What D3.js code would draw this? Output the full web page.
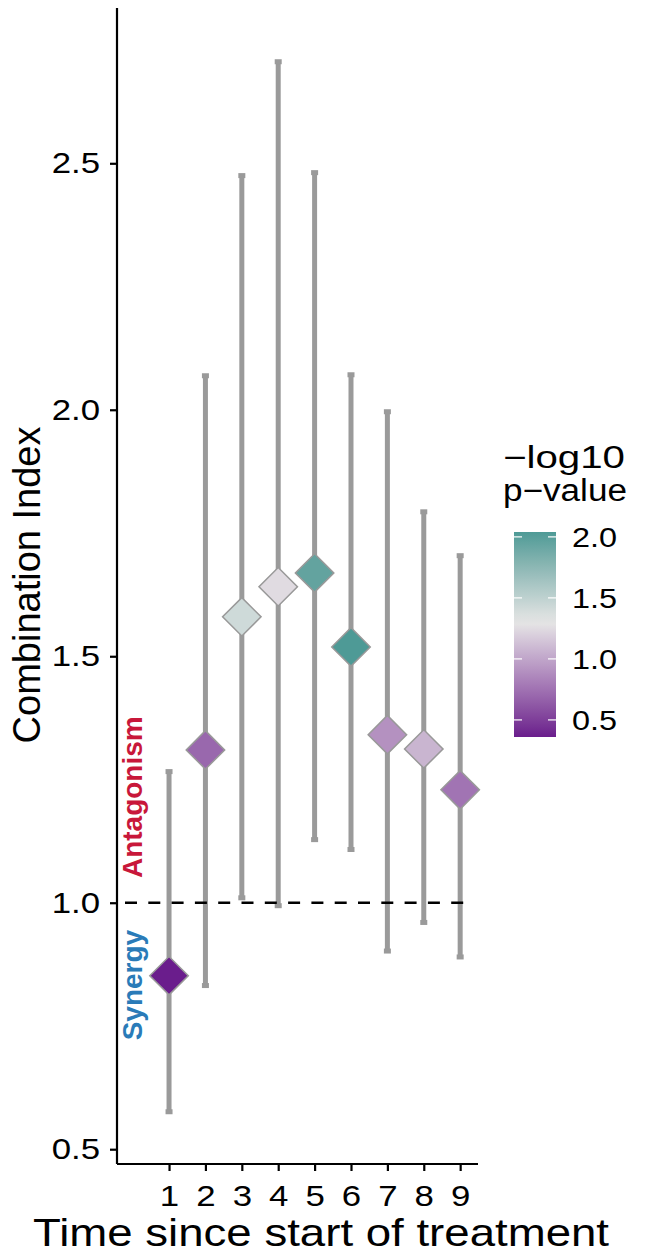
<!DOCTYPE html>
<html>
<head>
<meta charset="utf-8">
<script src="https://d3js.org/d3.v7.min.js"></script>
<style>
    body { margin: 0; background: #fff; }
    text { font-family: "Liberation Sans", Arial, sans-serif; }
</style>
</head>
<body>
<div id="chart"></div>
<script>
    // data
    var timepoints = [1, 2, 3, 4, 5, 6, 7, 8, 9];
    var ciValues  = [0.852, 1.310, 1.580, 1.641, 1.669, 1.519, 1.341, 1.312, 1.229];
    var ciLower   = [0.576, 0.832, 1.010, 0.994, 1.128, 1.108, 0.902, 0.960, 0.890];
    var ciUpper   = [1.266, 2.069, 2.475, 2.706, 2.481, 2.071, 1.996, 1.793, 1.704];
    var negLogP   = [0.36, 0.70, 1.42, 1.25, 1.95, 2.04, 0.90, 1.07, 0.76];
    var yTicks = [0.5, 1.0, 1.5, 2.0, 2.5];
    var legendTicks = [0.5, 1.0, 1.5, 2.0];

    var W = 647, H = 1254;
    var SX = 1.2; // horizontal text stretch seen in the picture

    var svg = d3.select("#chart")
        .append("svg")
        .attr("width", W)
        .attr("height", H);

    var x = d3.scaleLinear()
        .domain([-0.43, 9.49])
        .range([117, 478]);

    var y = d3.scaleLinear()
        .domain([0.47, 2.815])
        .range([1164, 8]);

    var color = d3.scaleLinear()
        .domain([0.36, 1.3, 2.04])
        .range(["#6a1d8c", "#e6e6e6", "#4e9a96"])
        .interpolate(d3.interpolateLab);

    var data = timepoints.map(function (t, i) {
        return { t: t, ci: ciValues[i], lo: ciLower[i], hi: ciUpper[i], p: negLogP[i] };
    });

    function hText(px, py, size, txt, anchor) {
        return svg.append("text")
            .attr("transform", "translate(" + px + "," + py + ") scale(" + SX + ",1)")
            .attr("text-anchor", anchor || "start")
            .style("font-size", size + "px")
            .text(txt);
    }

    // error bars
    var bars = svg.append("g");
    bars.selectAll("line")
        .data(data)
        .enter()
        .append("line")
        .attr("x1", function (d) { return x(d.t) })
        .attr("x2", function (d) { return x(d.t) })
        .attr("y1", function (d) { return y(d.lo) })
        .attr("y2", function (d) { return y(d.hi) })
        .attr("stroke", "#9a9a9a")
        .attr("stroke-width", 5);

    var caps = [];
    data.forEach(function (d) { caps.push({ t: d.t, v: d.lo }); caps.push({ t: d.t, v: d.hi }); });
    bars.selectAll("rect")
        .data(caps)
        .enter()
        .append("rect")
        .attr("x", function (d) { return x(d.t) - 3.5 })
        .attr("y", function (d) { return y(d.v) - 2.5 })
        .attr("width", 7)
        .attr("height", 5)
        .attr("fill", "#9a9a9a");

    // reference line at CI = 1
    svg.append("line")
        .attr("x1", x.range()[0])
        .attr("x2", 472)
        .attr("y1", y(1))
        .attr("y2", y(1))
        .attr("stroke", "#000")
        .attr("stroke-width", 2.4)
        .attr("stroke-dasharray", "12,11.3")
        .attr("stroke-dashoffset", -8);

    // diamonds
    svg.append("g")
        .selectAll("path")
        .data(data)
        .enter()
        .append("path")
        .attr("d", d3.symbol().type(d3.symbolSquare).size(740))
        .attr("transform", function (d) { return "translate(" + x(d.t) + "," + y(d.ci) + ") rotate(45)" })
        .attr("fill", function (d) { return color(d.p) })
        .attr("stroke", "#999")
        .attr("stroke-width", 1.5);

    // axes
    var yAxis = svg.append("g")
        .attr("transform", "translate(117,0)")
        .call(d3.axisLeft(y).tickValues(yTicks).tickFormat(d3.format(".1f")).tickSize(7).tickPadding(10));
    yAxis.select(".domain").attr("d", "M0," + y.range()[1] + "V" + y.range()[0]);
    yAxis.selectAll(".tick text")
        .attr("x", -17 / SX)
        .attr("transform", "scale(" + SX + ",1)");

    var xAxis = svg.append("g")
        .attr("transform", "translate(0,1164)")
        .call(d3.axisBottom(x).tickValues(timepoints).tickFormat(d3.format("d")).tickSize(7).tickPadding(14));
    xAxis.select(".domain").attr("d", "M" + x.range()[0] + ",0H" + x.range()[1]);
    xAxis.selectAll(".tick text").attr("transform", "scale(" + SX + ",1)");

    svg.selectAll(".domain").attr("stroke", "#000").attr("stroke-width", 2.2);
    svg.selectAll(".tick line").attr("stroke", "#000").attr("stroke-width", 2.2);
    svg.selectAll(".tick text")
        .attr("fill", "#000")
        .style("font-size", "29px")
        .style("font-family", "'Liberation Sans', Arial, sans-serif");

    // axis titles
    hText(321, 1246, 38, "Time since start of treatment", "middle");

    svg.append("text")
        .attr("transform", "translate(40,585) rotate(-90)")
        .attr("text-anchor", "middle")
        .style("font-size", "38px")
        .text("Combination Index");

    // annotations
    svg.append("text")
        .attr("transform", "translate(142," + y(1.05) + ") rotate(-90)")
        .attr("text-anchor", "start")
        .attr("fill", "#c8173a")
        .style("font-size", "28px")
        .style("font-weight", "bold")
        .text("Antagonism");

    svg.append("text")
        .attr("transform", "translate(142," + y(0.945) + ") rotate(-90)")
        .attr("text-anchor", "end")
        .attr("fill", "#2a7bb8")
        .style("font-size", "28px")
        .style("font-weight", "bold")
        .text("Synergy");

    // colour legend
    var lg = d3.scaleLinear().domain([0.36, 2.04]).range([737, 532]);
    var defs = svg.append("defs");
    var grad = defs.append("linearGradient")
        .attr("id", "pgrad")
        .attr("x1", 0).attr("y1", 1).attr("x2", 0).attr("y2", 0);
    d3.range(0, 1.0001, 0.05).forEach(function (f) {
        var v = 0.36 + f * (2.04 - 0.36);
        grad.append("stop").attr("offset", f).attr("stop-color", color(v));
    });
    svg.append("rect")
        .attr("x", 514)
        .attr("y", lg(2.04))
        .attr("width", 42)
        .attr("height", lg(0.36) - lg(2.04))
        .attr("fill", "url(#pgrad)");

    legendTicks.forEach(function (v) {
        svg.append("line").attr("x1", 514).attr("x2", 522).attr("y1", lg(v)).attr("y2", lg(v))
            .attr("stroke", "#fff").attr("stroke-width", 1.2);
        svg.append("line").attr("x1", 548).attr("x2", 556).attr("y1", lg(v)).attr("y2", lg(v))
            .attr("stroke", "#fff").attr("stroke-width", 1.2);
        hText(572, lg(v) + 10, 27, d3.format(".1f")(v));
    });

    // legend title, each line fitted to the width seen in the picture
    svg.append("text").attr("x", 503).attr("y", 468)
        .attr("textLength", 122).attr("lengthAdjust", "spacingAndGlyphs")
        .style("font-size", "31px").text("\u2212log10");
    svg.append("text").attr("x", 503).attr("y", 501)
        .attr("textLength", 124).attr("lengthAdjust", "spacingAndGlyphs")
        .style("font-size", "31px").text("p\u2212value");
</script>
</body>
</html>
